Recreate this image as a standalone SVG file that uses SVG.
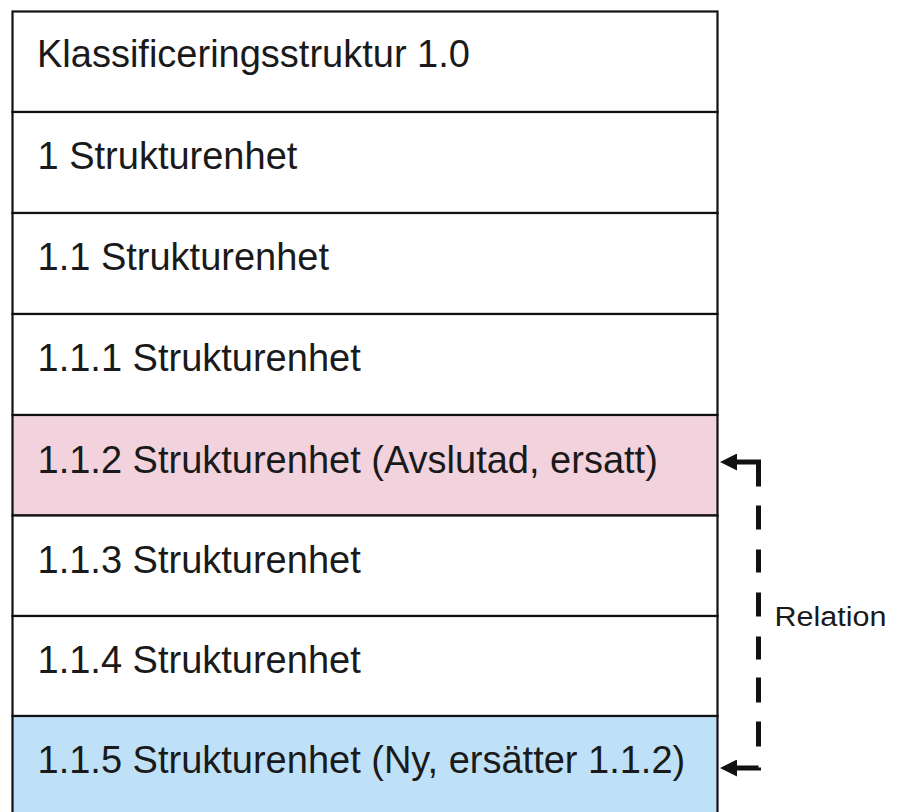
<svg xmlns="http://www.w3.org/2000/svg" width="897" height="812" viewBox="0 0 897 812">
<style>
.box{stroke:#111;stroke-width:2.2}
.w{fill:#ffffff}
.pink{fill:#f2d3dd}
.blue{fill:#bfe1f8}
.lbl{font-family:"Liberation Sans",Arial,sans-serif;font-size:38px;fill:#1a1a1a}
.rel{font-family:"Liberation Sans",Arial,sans-serif;font-size:27px;fill:#1a1a1a}
.conn{fill:none;stroke:#111;stroke-width:5;stroke-dasharray:46 19 24 20 23 20 24 20 23 18 25 19 25 21 40}
</style>
<defs>
<marker id="ah" viewBox="0 0 18 18" refX="0" refY="9" markerWidth="18" markerHeight="17" markerUnits="userSpaceOnUse" orient="auto-start-reverse">
<path d="M0,0 L18,9 L0,18 z" fill="#111"/>
</marker>
</defs>
<rect width="897" height="812" fill="#ffffff"/>
<g id="n0"><rect class="box w" x="12.5" y="11.5" width="705" height="100.5"/><text class="lbl" x="37" y="67">Klassificeringsstruktur 1.0</text></g>
<g id="n1"><rect class="box w" x="12.5" y="112" width="705" height="101"/><text class="lbl" x="37.5" y="169">1 Strukturenhet</text></g>
<g id="n2"><rect class="box w" x="12.5" y="213" width="705" height="101"/><text class="lbl" x="37.5" y="270">1.1 Strukturenhet</text></g>
<g id="n3"><rect class="box w" x="12.5" y="314" width="705" height="101"/><text class="lbl" x="37.5" y="371">1.1.1 Strukturenhet</text></g>
<g id="n4"><rect class="box pink" x="12.5" y="415" width="705" height="100.5"/><text class="lbl" x="37.5" y="473">1.1.2 Strukturenhet (Avslutad, ersatt)</text></g>
<g id="n5"><rect class="box w" x="12.5" y="515.5" width="705" height="100.5"/><text class="lbl" x="37.5" y="573">1.1.3 Strukturenhet</text></g>
<g id="n6"><rect class="box w" x="12.5" y="616" width="705" height="100"/><text class="lbl" x="37.5" y="673">1.1.4 Strukturenhet</text></g>
<g id="n7"><rect class="box blue" x="12.5" y="716" width="705" height="110"/><text class="lbl" x="37.5" y="773">1.1.5 Strukturenhet (Ny, ersätter 1.1.2)</text></g>
<g id="connectors">
<path class="conn" d="M737,462 H758.5 V768 H737" marker-start="url(#ah)" marker-end="url(#ah)"/>
<text class="rel" x="774.5" y="626" textLength="112" lengthAdjust="spacingAndGlyphs">Relation</text>
</g>
</svg>
